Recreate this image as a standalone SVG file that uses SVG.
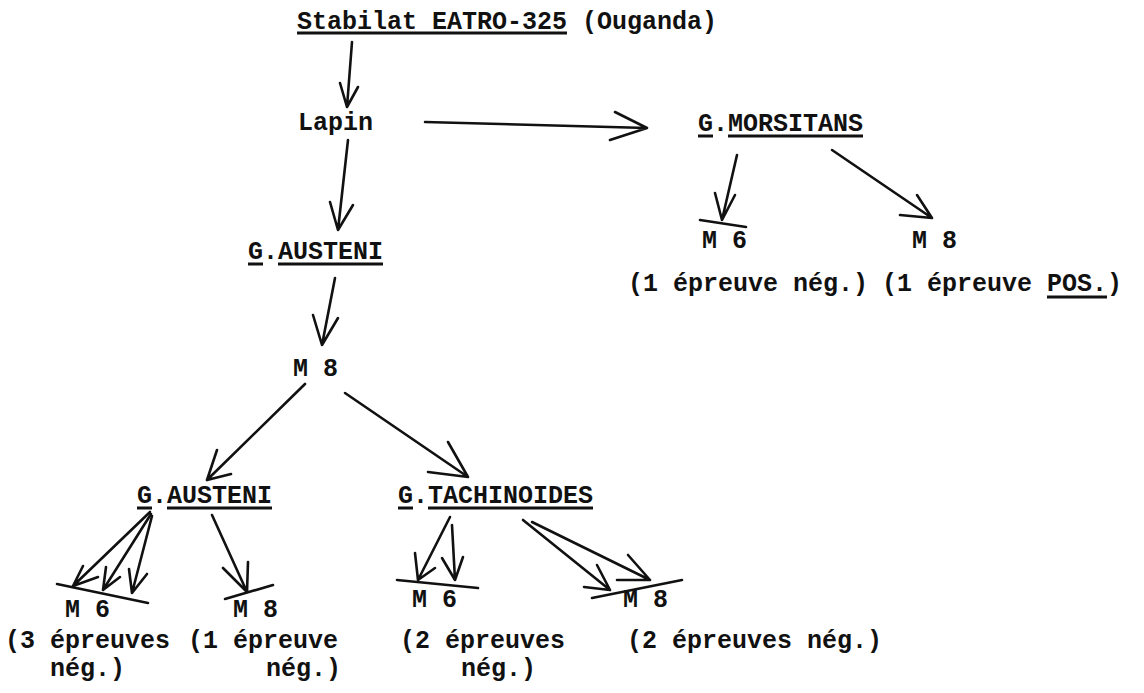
<svg xmlns="http://www.w3.org/2000/svg" width="1144" height="693" viewBox="0 0 1144 693">
<style>
text{font-family:"Liberation Mono","Courier New",monospace;font-size:25px;font-weight:bold;fill:#111}
.ln{stroke:#111;stroke-width:2.6;fill:none;stroke-linecap:round;stroke-linejoin:round}
.ul{stroke:#111;stroke-width:3;fill:none}
</style>
<rect width="1144" height="693" fill="#fff"/>
<g id="stabilat"><text x="297" y="29">Stabilat EATRO-325 (Ouganda)</text><line class="ul" x1="297" y1="33" x2="567" y2="33"/></g>
<g id="lapin"><text x="298" y="130">Lapin</text></g>
<g id="morsitans"><text x="698" y="131">G.MORSITANS</text><line class="ul" x1="698" y1="136" x2="713" y2="136"/><line class="ul" x1="728" y1="136" x2="863" y2="136"/></g>
<g id="mors-m6"><text x="702" y="248">M 6</text><text x="628" y="291">(1 épreuve nég.)</text></g>
<g id="mors-m8"><text x="912" y="248">M 8</text><text x="882" y="291">(1 épreuve POS.)</text><line class="ul" x1="1047" y1="297" x2="1107" y2="297"/></g>
<g id="austeni1"><text x="248" y="259">G.AUSTENI</text><line class="ul" x1="248" y1="264" x2="263" y2="264"/><line class="ul" x1="278" y1="264" x2="383" y2="264"/></g>
<g id="m8"><text x="293" y="376">M 8</text></g>
<g id="austeni2"><text x="137" y="503">G.AUSTENI</text><line class="ul" x1="137" y1="508" x2="152" y2="508"/><line class="ul" x1="167" y1="508" x2="272" y2="508"/></g>
<g id="tachinoides"><text x="398" y="503">G.TACHINOIDES</text><line class="ul" x1="398" y1="508" x2="413" y2="508"/><line class="ul" x1="428" y1="508" x2="593" y2="508"/></g>
<g id="aus-m6"><text x="65" y="617">M 6</text><text x="5" y="648">(3 épreuves</text><text x="50" y="676">nég.)</text></g>
<g id="aus-m8"><text x="233" y="617">M 8</text><text x="188" y="648">(1 épreuve</text><text x="266" y="676">nég.)</text></g>
<g id="tach-m6"><text x="412" y="607">M 6</text><text x="400" y="648">(2 épreuves</text><text x="461" y="676">nég.)</text></g>
<g id="tach-m8"><text x="623" y="607">M 8</text><text x="627" y="648">(2 épreuves nég.)</text></g>
<g id="connectors" class="ln">
<path d="M352,42 L347,107 M340,83 L347,107 L358,87"/>
<path d="M348,140 L338,230 M330,202 L338,230 L353,205"/>
<path d="M425,122 L647,128 M615,112 L647,128 L610,140"/>
<path d="M737,155 L722,220 M715,193 L722,220 L735,195 M700,220 L746,227"/>
<path d="M832,150 L932,218 M917,195 L932,218 L900,215"/>
<path d="M335,278 L322,345 M313,315 L322,345 L338,318"/>
<path d="M305,384 L207,480 M217,450 L207,480 L231,474"/>
<path d="M345,393 L468,477 M448,442 L468,477 L428,472"/>
<path d="M150,512 L73,586 M83,566 L73,586 L98,577"/>
<path d="M151,514 L103,590 M106,567 L103,590 L120,577"/>
<path d="M152,516 L132,593 M129,569 L132,593 L147,574"/>
<path d="M57,584 L148,603"/>
<path d="M212,515 L247,592 M223,568 L247,592 L248,562 M225,599 L273,585"/>
<path d="M450,517 L418,580 M415,553 L418,580 L435,568"/>
<path d="M452,525 L455,580 M442,558 L455,580 L463,557"/>
<path d="M397,580 L478,588"/>
<path d="M523,520 L610,590 M597,565 L610,590 L584,587"/>
<path d="M532,522 L650,580 M628,555 L650,580 L617,580"/>
<path d="M592,598 L682,580"/>
</g>
</svg>
